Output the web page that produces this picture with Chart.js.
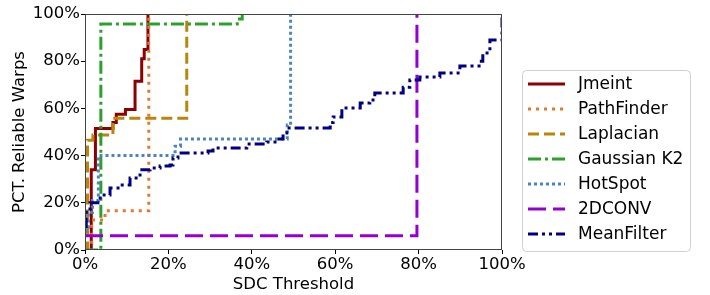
<!DOCTYPE html>
<html>
<head>
<meta charset="utf-8">
<script src="https://cdn.jsdelivr.net/npm/chart.js@4/dist/chart.umd.min.js"></script>
<style>
  body { margin: 0; background: #fff; }
</style>
</head>
<body>
<canvas id="cdfChart" width="710" height="295"></canvas>
<script>
// values (x = SDC threshold %, y = % reliable warps)
const seriesNames = ['Jmeint', 'PathFinder', 'Laplacian', 'Gaussian K2', 'HotSpot', '2DCONV', 'MeanFilter'];

const jmeintX = [1.2, 1.5, 2.5, 6.7, 7.5, 9.7, 12.0, 13.6, 14.2, 15.1];
const jmeintY = [0, 34, 51.5, 54, 57.5, 59.5, 71.5, 81, 85, 100];

const pathX = [1.2, 1.6, 4.8, 15.3];
const pathY = [0, 12.7, 16.6, 100];

const lapX = [0, 0.6, 1.9, 6.7, 24.4];
const lapY = [0, 46.5, 48.7, 55.8, 100];

const gaussX = [0, 3.8, 36.5, 37.7];
const gaussY = [0, 95.8, 97.9, 100];

const hotX = [0, 0.8, 1.8, 3.2, 21.6, 22.9, 48.5, 49.3];
const hotY = [8, 16, 21, 40, 44, 47, 53, 100];

const convX = [0, 79.6];
const convY = [6, 100];

const meanX = [0, 0.3, 1.2, 3.1, 4.1, 6.0, 8.4, 10.8, 13.2, 15.6, 18.0, 20.4, 21.1, 22.3, 29.5, 30.7, 38.8, 43.6, 46.0, 47.5, 48.4,
  58.8, 59.5, 61.6, 66.0, 68.3, 69.5, 76.3, 77.9, 80.3, 85.1, 89.9, 94.5, 95.4, 97.1, 100];
const meanY = [10, 16, 20, 22, 23.3, 26.3, 27.5, 30.5, 34, 34.7, 35.6, 36, 39, 41.1, 41.9, 43.2, 44.9, 45.8, 47, 49.6, 51.7,
  54, 56.4, 60.2, 62.3, 63.6, 66.5, 69, 72, 73.3, 75, 78, 80, 83.5, 89, 100];

const tickValues = [0, 20, 40, 60, 80, 100];

const colors = ['#8b0000', '#e8762b', '#b8860b', '#2ca02c', '#4a86bd', '#9400d3', '#000080'];
const dashes = [[], [3, 5], [11, 5], [13, 4, 3, 4], [3, 3], [18, 7], [10, 4, 3, 4, 3, 4]];

const xs = [jmeintX, pathX, lapX, gaussX, hotX, convX, meanX];
const ys = [jmeintY, pathY, lapY, gaussY, hotY, convY, meanY];

const datasets = seriesNames.map((name, i) => ({
  label: name,
  data: xs[i].map((x, j) => ({ x: x, y: ys[i][j] })),
  borderColor: colors[i],
  borderWidth: 3,
  borderDash: dashes[i],
  borderCapStyle: 'butt',
  pointRadius: 0,
  stepped: true,
  fill: false,
  clip: 0,
  order: seriesNames.length - i
}));

// frame around the plot + boxed legend on the right
const frameAndLegend = {
  id: 'frameAndLegend',
  afterDraw(chart) {
    const ctx = chart.ctx;
    const a = chart.chartArea;
    ctx.save();
    ctx.strokeStyle = '#444';
    ctx.lineWidth = 1;
    ctx.strokeRect(a.left + 0.5, a.top + 0.5, a.right - a.left - 1, a.bottom - a.top - 1);

    // legend box
    const bx = 522.5, by = 70.5, bw = 168, bh = 181;
    ctx.strokeStyle = '#d0d0d0';
    ctx.beginPath();
    ctx.roundRect(bx, by, bw, bh, 4);
    ctx.fillStyle = 'rgba(255,255,255,0.8)';
    ctx.fill();
    ctx.stroke();

    ctx.font = '17px "DejaVu Sans"';
    ctx.textBaseline = 'middle';
    seriesNames.forEach((name, i) => {
      const y = 84 + i * 25;
      ctx.beginPath();
      ctx.setLineDash(dashes[i]);
      ctx.lineCap = 'butt';
      ctx.strokeStyle = colors[i];
      ctx.lineWidth = 3;
      ctx.moveTo(528, y);
      ctx.lineTo(565, y);
      ctx.stroke();
      ctx.setLineDash([]);
      ctx.fillStyle = '#000';
      ctx.fillText(name, 578, y + 1);
    });
    ctx.restore();
  }
};

const ctx = document.getElementById('cdfChart').getContext('2d');
new Chart(ctx, {
  type: 'line',
  data: { datasets: datasets },
  options: {
    responsive: false,
    animation: false,
    layout: { padding: { top: 14, right: 208, left: 0, bottom: 0 } },
    plugins: {
      legend: { display: false },
      tooltip: { enabled: false }
    },
    scales: {
      x: {
        type: 'linear',
        min: 0,
        max: 100,
        afterFit: (scale) => { scale.height = 45; },
        afterBuildTicks: (scale) => { scale.ticks = tickValues.map(v => ({ value: v })); },
        ticks: {
          color: '#000',
          font: { family: 'DejaVu Sans', size: 16.5 },
          padding: 1,
          maxRotation: 0,
          callback: (v) => v + '%'
        },
        grid: { drawOnChartArea: false, drawTicks: true, tickLength: 4, color: '#000' },
        border: { display: false },
        title: {
          display: true,
          text: 'SDC Threshold',
          color: '#000',
          font: { family: 'DejaVu Sans', size: 16.5 },
          padding: { top: 0, bottom: 0 }
        }
      },
      y: {
        min: 0,
        max: 100,
        afterFit: (scale) => { scale.width = 85; },
        afterBuildTicks: (scale) => { scale.ticks = tickValues.map(v => ({ value: v })); },
        ticks: {
          color: '#000',
          font: { family: 'DejaVu Sans', size: 16.5 },
          padding: 1,
          callback: (v) => v + '%'
        },
        grid: { drawOnChartArea: false, drawTicks: true, tickLength: 4, color: '#000' },
        border: { display: false },
        title: {
          display: true,
          text: 'PCT. Reliable Warps',
          color: '#000',
          font: { family: 'DejaVu Sans', size: 16.5 },
          padding: { top: 10, bottom: 0 }
        }
      }
    }
  },
  plugins: [frameAndLegend]
});
</script>
</body>
</html>
